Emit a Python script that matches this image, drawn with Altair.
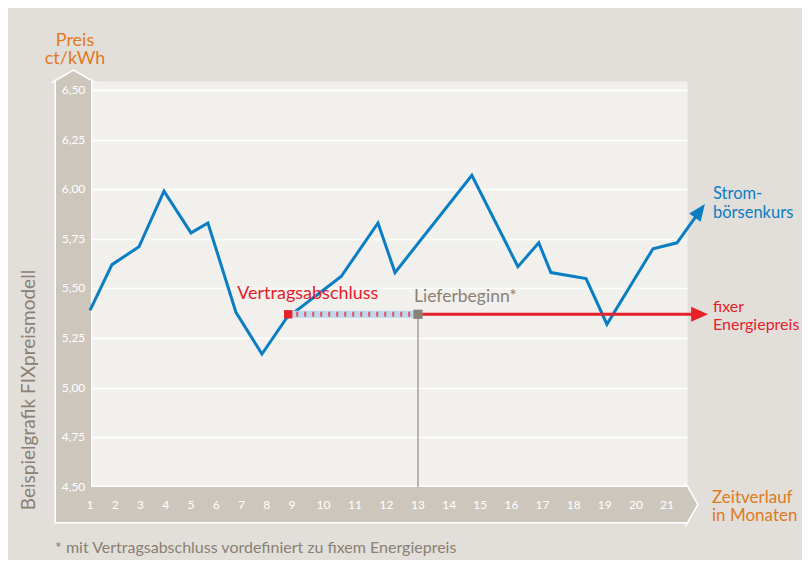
import altair as alt
import pandas as pd

# ---- data ----
month_ticks = list(range(1, 22))
price_ticks = [4.50, 4.75, 5.00, 5.25, 5.50, 5.75, 6.00, 6.25, 6.50]

# Strombörsenkurs (ct/kWh) over months
boerse_month = [1.0, 1.87, 2.94, 3.93, 5.00, 5.67, 6.78, 7.81, 8.78, 10.56, 11.73, 12.27,
                14.73, 16.21, 16.88, 17.27, 18.40, 19.07, 20.55, 21.32, 22.03]
boerse_price = [5.39, 5.62, 5.71, 5.99, 5.78, 5.83, 5.38, 5.17, 5.35, 5.56, 5.83, 5.58,
                6.07, 5.61, 5.73, 5.58, 5.55, 5.32, 5.70, 5.73, 5.885]

contract_month = 8.85     # Vertragsabschluss
delivery_month = 13.0     # Lieferbeginn
fixed_end_month = 22.0    # end of fixed price arrow
fixed_price = 5.37

BLUE = "#0b7dc3"
RED = "#e6212a"
ORANGE = "#e07a1e"
GRAYTXT = "#8a8074"
BAND = "#cdc6bd"
FONT = "Lato"

W, H = 596, 406

xscale = alt.Scale(domain=[1, 9, 13, 21, 21.643], range=[-1, 201, 327, 576, 596],
                   nice=False, zero=False)
yscale = alt.Scale(domain=[4.5, 6.545], nice=False, zero=False)

yaxis_def = alt.Axis(values=price_ticks, grid=True, gridColor="white", gridWidth=1.5,
                     domain=False, ticks=False, labels=False, title=None)

X = lambda f: alt.X(f, scale=xscale, axis=None)
Y = lambda f: alt.Y(f, scale=yscale, axis=yaxis_def)

boerse = pd.DataFrame({"m": boerse_month, "p": boerse_price})
one = pd.DataFrame({"a": [0]})

# ---- decorative axis bands ----
def band_layers(stroke):
    kw = dict(fill=BAND)
    if stroke:
        kw.update(stroke="white", strokeWidth=3)
    else:
        kw.update(strokeWidth=0)
    vert = alt.Chart(one).mark_rect(**kw).encode(
        x=alt.value(-35), x2=alt.value(0), y=alt.value(0), y2=alt.value(H))
    bottom = alt.Chart(one).mark_rect(**kw).encode(
        x=alt.value(-35), x2=alt.value(W), y=alt.value(H), y2=alt.value(H + 35))
    pkw = dict(filled=True, opacity=1, color=BAND, size=1225)
    if stroke:
        pkw.update(stroke="white", strokeWidth=3, strokeOpacity=1)
    else:
        pkw.update(strokeWidth=0)
    top = alt.Chart(one).mark_point(shape="M-1,0.286 L0,-0.286 L1,0.286 Z", **pkw).encode(
        x=alt.value(-17.5), y=alt.value(-5))
    right = alt.Chart(one).mark_point(shape="M-0.286,-1 L0.286,0 L-0.286,1 Z", **pkw).encode(
        x=alt.value(W + 5), y=alt.value(H + 17.5))
    return [vert, bottom, top, right]

decor = band_layers(True) + band_layers(False)

# ---- grid carrier ----
grid = alt.Chart(pd.DataFrame({"m": [1, 21], "p": [4.5, 6.5]})).mark_point(opacity=0).encode(
    x=X("m:Q"), y=Y("p:Q"))

# ---- tick labels (on the bands) ----
xlab = alt.Chart(pd.DataFrame({"m": month_ticks})).mark_text(
    font=FONT, fontSize=12, color="white", align="center", baseline="middle").encode(
    x=X("m:Q"), y=alt.value(H + 18), text=alt.Text("m:Q", format="d"))
ylab = alt.Chart(pd.DataFrame({"p": price_ticks})).transform_calculate(
    lab="replace(format(datum.p, '.2f'), '.', ',')").mark_text(
    font=FONT, fontSize=12, color="white", align="center", baseline="middle").encode(
    x=alt.value(-17.5), y=Y("p:Q"), text="lab:N")

# ---- Strombörsenkurs line + arrowhead ----
bline = alt.Chart(boerse).mark_line(color=BLUE, strokeWidth=3, strokeJoin="miter").encode(
    x=X("m:Q"), y=Y("p:Q"), order="m:Q")
bhead = alt.Chart(pd.DataFrame({"m": [boerse_month[-1]], "p": [boerse_price[-1]]})).mark_point(
    shape="M0,-1 L0.7,0.7 L-0.7,0.7 Z", size=400, filled=True, opacity=1, color=BLUE,
    angle=36).encode(x=X("m:Q"), y=Y("p:Q"))

# ---- fixed price ----
fix = pd.DataFrame({"m": [contract_month], "m2": [delivery_month], "p": [fixed_price]})
hatch_bg = alt.Chart(fix).mark_rule(color="#bcd8ef", strokeWidth=7).encode(
    x=X("m:Q"), x2="m2", y=Y("p:Q"))
hatch = alt.Chart(fix).mark_rule(color="#e8505a", strokeWidth=5, strokeDash=[2, 6]).encode(
    x=X("m:Q"), x2="m2", y=Y("p:Q"))
fixed_line = alt.Chart(pd.DataFrame({"m": [delivery_month], "m2": [fixed_end_month],
                                     "p": [fixed_price]})).mark_rule(
    color=RED, strokeWidth=3).encode(x=X("m:Q"), x2="m2", y=Y("p:Q"))
fhead = alt.Chart(pd.DataFrame({"m": [fixed_end_month], "p": [fixed_price]})).mark_point(
    shape="M1,0 L-0.7,0.75 L-0.7,-0.75 Z", size=400, filled=True, opacity=1, color=RED).encode(
    x=X("m:Q"), y=Y("p:Q"))
vline = alt.Chart(pd.DataFrame({"m": [delivery_month], "p": [fixed_price], "p2": [4.5]})).mark_rule(
    color="#a9a197", strokeWidth=1.5).encode(x=X("m:Q"), y=Y("p:Q"), y2="p2")
red_sq = alt.Chart(pd.DataFrame({"m": [contract_month], "p": [fixed_price]})).mark_square(
    size=70, color=RED, opacity=1).encode(x=X("m:Q"), y=Y("p:Q"))
gray_sq = alt.Chart(pd.DataFrame({"m": [delivery_month], "p": [fixed_price]})).mark_square(
    size=85, color="#8a8074", opacity=1).encode(x=X("m:Q"), y=Y("p:Q"))

# ---- annotations ----
t_contract = alt.Chart(pd.DataFrame({"m": [contract_month], "p": [fixed_price]})).mark_text(
    text="Vertragsabschluss", align="left", baseline="alphabetic", dx=-51, dy=-15,
    font=FONT, fontSize=18, color=RED).encode(x=X("m:Q"), y=Y("p:Q"))
t_delivery = alt.Chart(pd.DataFrame({"m": [delivery_month], "p": [fixed_price]})).mark_text(
    text="Lieferbeginn*", align="left", baseline="alphabetic", dx=-4, dy=-12,
    font=FONT, fontSize=17.5, color=GRAYTXT).encode(x=X("m:Q"), y=Y("p:Q"))

def txt(lines, x, y, color, size=16, align="left", lh=17, angle=0, baseline="alphabetic"):
    kw = dict(text=lines, align=align, baseline=baseline, font=FONT, fontSize=size,
              color=color, lineHeight=lh)
    if angle:
        kw["angle"] = angle
    return alt.Chart(one).mark_text(**kw).encode(x=alt.value(x), y=alt.value(y))

t_unit = txt(["Preis", "ct/kWh"], -16, -35, ORANGE, size=18, align="center", lh=18)
t_strom = txt(["Strom-", "börsenkurs"], 622, 118, BLUE, size=16.5, lh=19)
t_fix = txt(["fixer", "Energiepreis"], 622, 231, RED, size=16, lh=18)
t_time = txt(["Zeitverlauf", "in Monaten"], 621, 422, ORANGE, size=17, lh=18)
t_note = txt("* mit Vertragsabschluss vordefiniert zu fixem Energiepreis", -36, 472, GRAYTXT, size=16)
t_side = txt("Beispielgrafik FIXpreismodell", -62, 309, GRAYTXT, size=19, align="center",
             angle=270, baseline="middle")

chart = alt.layer(
    grid, *decor, xlab, ylab, bline, bhead, vline, hatch_bg, hatch, fixed_line, fhead,
    red_sq, gray_sq, t_contract, t_delivery, t_unit, t_strom, t_fix, t_time, t_note, t_side
).properties(
    width=W, height=H, autosize="none",
    padding={"left": 83, "top": 73, "right": 115, "bottom": 73},
).configure(background="#e2dfda").configure_view(fill="#f1f0ed", stroke="transparent")

chart.save("out.html", embed_options={"renderer": "svg", "actions": False})
